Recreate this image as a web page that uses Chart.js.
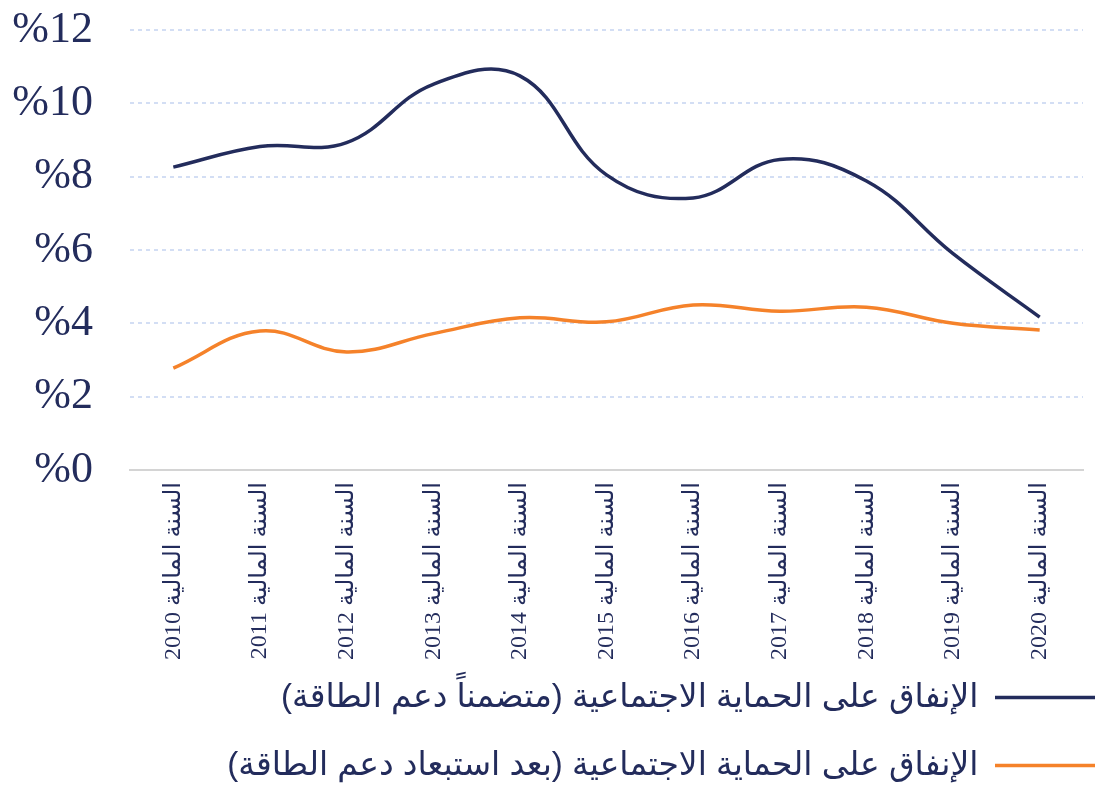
<!DOCTYPE html>
<html lang="ar">
<head>
<meta charset="utf-8">
<script src="https://cdn.jsdelivr.net/npm/chart.js@4.4.1/dist/chart.umd.min.js"></script>
<style>
  html, body { margin: 0; padding: 0; background: #fff; }
  #wrap { width: 1099px; height: 792px; position: relative; }
  #grafico { direction: rtl; }
</style>
</head>
<body>
<div id="wrap"><canvas id="grafico"></canvas></div>
<script>
  const anios = ["2010", "2011", "2012", "2013", "2014", "2015", "2016", "2017", "2018", "2019", "2020"];
  const etiquetas = anios.map(a => "السنة المالية " + a);

  const conSubsidio = [8.26, 8.82, 8.93, 10.52, 10.75, 8.05, 7.42, 8.47, 7.88, 5.9, 4.17];
  const sinSubsidio = [2.78, 3.79, 3.22, 3.72, 4.15, 4.04, 4.5, 4.33, 4.44, 4.0, 3.82];

  const serie1 = "الإنفاق على الحماية الاجتماعية (متضمناً دعم الطاقة)";
  const serie2 = "الإنفاق على الحماية الاجتماعية (بعد استبعاد دعم الطاقة)";

  const yTicks = [0, 2, 4, 6, 8, 10, 12];

  const azul = "#232c5c";
  const naranja = "#f5822a";

  // mover la leyenda hacia el borde derecho y un poco arriba, como en el original
  const moverLeyenda = {
    id: "moverLeyenda",
    afterLayout(chart) {
      const l = chart.legend;
      if (l) {
        l.left += 47;
        l.right += 47;
        l.top -= 19;
        l.bottom -= 19;
      }
    },
  };

  const ctx = document.getElementById("grafico").getContext("2d");

  new Chart(ctx, {
    type: "line",
    data: {
      labels: etiquetas,
      datasets: [
        {
          label: serie1,
          data: conSubsidio,
          borderColor: azul,
          backgroundColor: azul,
          borderWidth: 3.5,
          tension: 0.4,
          pointRadius: 0,
        },
        {
          label: serie2,
          data: sinSubsidio,
          borderColor: naranja,
          backgroundColor: naranja,
          borderWidth: 3.5,
          tension: 0.4,
          pointRadius: 0,
        },
      ],
    },
    options: {
      responsive: true,
      maintainAspectRatio: false,
      animation: false,
      layout: { padding: { top: 30, right: 16, left: 0, bottom: -19 } },
      scales: {
        x: {
          offset: true,
          grid: { display: false },
          border: { display: true, color: "#d4d4d4", width: 2 },
          afterFit: (s) => { s.height = 195; },
          ticks: {
            minRotation: 90,
            maxRotation: 90,
            padding: 4,
            color: azul,
            font: { family: "'Liberation Serif', 'DejaVu Sans'", size: 24 },
          },
        },
        y: {
          min: 0,
          max: 12,
          afterBuildTicks: (axis) => {
            axis.ticks = yTicks.map(v => ({ value: v }));
          },
          afterFit: (s) => {
            s.width = 130;
            s.paddingTop = 0;
            s.paddingBottom = 0;
          },
          border: { display: false, dash: [4, 4] },
          grid: {
            drawTicks: false,
            lineWidth: 2,
            color: (c) => (c.tick && c.tick.value === 0 ? "rgba(0,0,0,0)" : "#d3def4"),
          },
          ticks: {
            padding: 37,
            color: azul,
            font: { family: "'Liberation Serif'", size: 44 },
            callback: (v) => "%" + v,
          },
        },
      },
      plugins: {
        tooltip: { enabled: false },
        legend: {
          position: "bottom",
          align: "start",
          rtl: true,
          textDirection: "rtl",
          labels: {
            usePointStyle: true,
            pointStyle: "line",
            pointStyleWidth: 100,
            boxHeight: 4,
            padding: 35,
            color: azul,
            font: { family: "'Liberation Sans', 'DejaVu Sans'", size: 33 },
          },
        },
      },
    },
    plugins: [moverLeyenda],
  });
</script>
</body>
</html>
